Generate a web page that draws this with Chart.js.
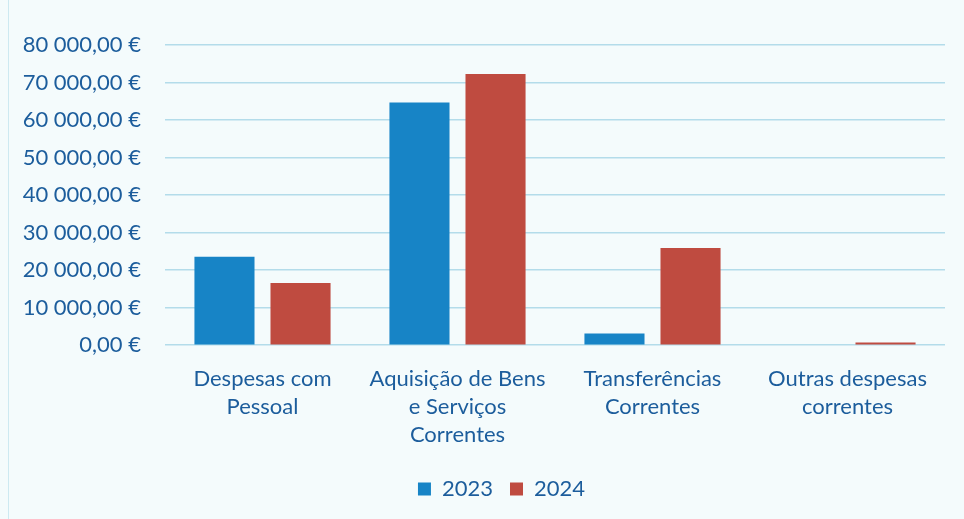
<!DOCTYPE html>
<html lang="pt">
<head>
    <meta charset="UTF-8">
    <title>Despesas correntes 2023 / 2024</title>
    <script src="https://cdn.jsdelivr.net/npm/chart.js@4.4.1/dist/chart.umd.min.js"></script>
    <style>
        html, body { margin: 0; padding: 0; background: #f4fbfc; }
        #wrap { position: relative; width: 964px; height: 519px; }
        #wrap::before { content: ''; position: absolute; left: 8px; top: 0; bottom: 0; border-left: 1px solid #cde9f1; }
    </style>
</head>
<body>
    <div id="wrap">
        <canvas id="chart" width="964" height="519"></canvas>
    </div>

    <script>
        // categories (multi-line labels as in the original)
        const categories = [
            ['Despesas com', 'Pessoal'],
            ['Aquisição de Bens', 'e Serviços', 'Correntes'],
            ['Transferências', 'Correntes'],
            ['Outras despesas', 'correntes']
        ];
        const seriesNames = ['2023', '2024'];
        const values2023 = [23600, 64700, 3100, 0];
        const values2024 = [16600, 72300, 25900, 700];
        const yTicks = [0, 10000, 20000, 30000, 40000, 50000, 60000, 70000, 80000];

        const textBlue = '#1c5d9c';
        const fontFamily = 'Lato, "Open Sans", sans-serif';

        function euro(v) {
            const parts = v.toFixed(2).split('.');
            const intPart = parts[0].replace(/\B(?=(\d{3})+(?!\d))/g, ' ');
            return intPart + ',' + parts[1] + ' €';
        }

        // the legend in the original sits a little right of the page centre
        const legendShift = {
            id: 'legendShift',
            afterLayout(chart) {
                chart.legend.left += 29;
                chart.legend.right += 29;
            }
        };

        const ctx = document.getElementById('chart').getContext('2d');
        new Chart(ctx, {
            type: 'bar',
            data: {
                labels: categories,
                datasets: [{
                    label: seriesNames[0],
                    data: values2023,
                    backgroundColor: '#1784c6'
                }, {
                    label: seriesNames[1],
                    data: values2024,
                    backgroundColor: '#bf4b40'
                }]
            },
            options: {
                responsive: false,
                animation: false,
                layout: {
                    padding: { left: 0, right: 19, top: 45, bottom: 9 }
                },
                datasets: {
                    bar: { categoryPercentage: 0.78, barPercentage: 0.79 }
                },
                plugins: {
                    tooltip: { enabled: false },
                    legend: {
                        position: 'bottom',
                        labels: {
                            color: textBlue,
                            font: { family: fontFamily, size: 22 },
                            boxWidth: 13,
                            boxHeight: 13,
                            padding: 17
                        }
                    }
                },
                scales: {
                    x: {
                        grid: { display: false },
                        border: { display: false },
                        ticks: {
                            color: textBlue,
                            font: { family: fontFamily, size: 22, lineHeight: 1.27 },
                            padding: 12,
                            maxRotation: 0,
                            autoSkip: false
                        }
                    },
                    y: {
                        min: 0,
                        max: 80000,
                        afterFit: function (scale) { scale.width = 165; },
                        afterBuildTicks: function (scale) {
                            scale.ticks = yTicks.map(v => ({ value: v }));
                        },
                        grid: {
                            color: '#b3dcea',
                            lineWidth: 1.5,
                            drawTicks: false
                        },
                        border: { display: false },
                        ticks: {
                            color: textBlue,
                            font: { family: fontFamily, size: 22 },
                            padding: 24,
                            callback: v => euro(v)
                        }
                    }
                }
            },
            plugins: [legendShift]
        });
    </script>
</body>
</html>
